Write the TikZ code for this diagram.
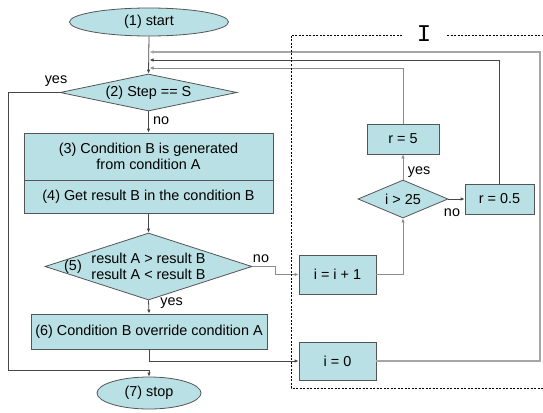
\documentclass[tikz,border=0pt]{standalone}
\usepackage{fontspec}
\setmainfont{Liberation Sans}
\newfontfamily\monofont{Liberation Mono}
\usetikzlibrary{shapes.geometric,arrows.meta}
\definecolor{boxfill}{RGB}{185,224,228}
\definecolor{boxline}{RGB}{85,85,85}
\definecolor{flowline}{RGB}{70,70,70}
\definecolor{paleline}{RGB}{140,140,140}
\tikzset{
  every node/.style={font=\fontsize{14.4}{16.5}\selectfont},
  stepbox/.style={rectangle, draw=boxline, fill=boxfill, line width=0.8pt,
    inner sep=0pt, align=center},
  terminal/.style={ellipse, draw=boxline, fill=boxfill, line width=0.8pt,
    inner sep=0pt},
  decision/.style={diamond, draw=boxline, fill=boxfill, line width=0.8pt,
    inner sep=0pt, align=center},
  flow/.style={draw=flowline, line width=0.8pt},
  arr/.style={flow, -{Latex[length=4pt,width=3.5pt]}},
  pale/.style={draw=paleline},
}
\begin{document}
\begin{tikzpicture}[x=1pt,y=-1pt]
    \useasboundingbox (0,0) rectangle (543,412);
    % main column
    \node[terminal, minimum width=159, minimum height=28] (start) at (149,22) {(1) start};
    \node[decision, aspect=4.78, minimum width=177, minimum height=37] (step) at (148.5,92.5)
        {(2) Step == S};
    \node[stepbox, minimum width=249, minimum height=47] (gen) at (148.5,156.5)
        {(3) Condition B is generated\\from condition A};
    \node[stepbox, minimum width=249, minimum height=33] (getres) at (148.5,196.5)
        {(4) Get result B in the condition B};
    \node[decision, aspect=3.09, minimum width=207, minimum height=67] (cmp) at (148.5,266.5)
        {result A > result B\\result A < result B};
    \node (cmpnum) at (73,267) {(5)};
    \node[stepbox, minimum width=236, minimum height=35] (override) at (149,331.5)
        {(6) Condition B override condition A};
    \node[terminal, minimum width=104, minimum height=32] (stop) at (149,393) {(7) stop};
    % loop part I
    \node[stepbox, minimum width=77, minimum height=39] (inc) at (337.5,274.5) {i = i + 1};
    \node[stepbox, minimum width=77, minimum height=38] (reset) at (337.5,361) {i = 0};
    \node[decision, aspect=2.37, minimum width=90, minimum height=38] (test) at (403,199)
        {i > 25};
    \node[stepbox, minimum width=72, minimum height=30] (rbig) at (403,139) {r = 5};
    \node[stepbox, minimum width=69, minimum height=30] (rsmall) at (499.5,199) {r = 0.5};
    % junctions
    \coordinate (j1) at (149.5,68);
    \coordinate (j2) at (149.5,60);
    \coordinate (j3) at (149.5,52);
    \coordinate (lft) at (8,370);
    \coordinate (kink) at (275,266.5);
    \coordinate (outer) at (540,52);
    % connectors
    \draw[arr] (start.south) -- (step.north);
    \draw[arr] (step.south) -- (gen.north) node[pos=0.45, right=1pt] {no};
    \draw[arr] (getres.south) -- (cmp.north);
    \draw[arr] (cmp.south) -- (override.north) node[pos=0.2, right=8pt] {yes};
    \draw[arr] (step.west) -| (lft) -| (stop.north);
    \node at (56,81) {yes};
    \draw[arr, pale] (cmp.east) -- (kink) |- (inc.west);
    \node at (261,259) {no};
    \draw[arr] (override.south) |- (reset.west);
    \draw[arr, pale] (inc.east) -| (test.south);
    \draw[arr] (test.east) -- (rsmall.west);
    \node at (452,213) {no};
    \draw[arr, pale] (test.north) -- (rbig.south);
    \node at (419,172) {yes};
    \draw[arr, pale] (rbig.north) |- (j1);
    \draw[arr] (rsmall.north) |- (j2);
    \draw[arr, draw=gray!70, line width=1.4pt] (reset.east) -| (outer) -- (j3);
    % dashed frame
    \draw[dash pattern=on 2pt off 1.5pt, line width=0.6pt] (402,35) -- (291,35) -- (291,388) -- (543,388);
    \draw[dash pattern=on 2pt off 1.5pt, line width=0.6pt] (447,35) -- (543,35);
    \node[font=\monofont\fontsize{24}{24}\selectfont] at (424,34) {I};
\end{tikzpicture}
\end{document}
